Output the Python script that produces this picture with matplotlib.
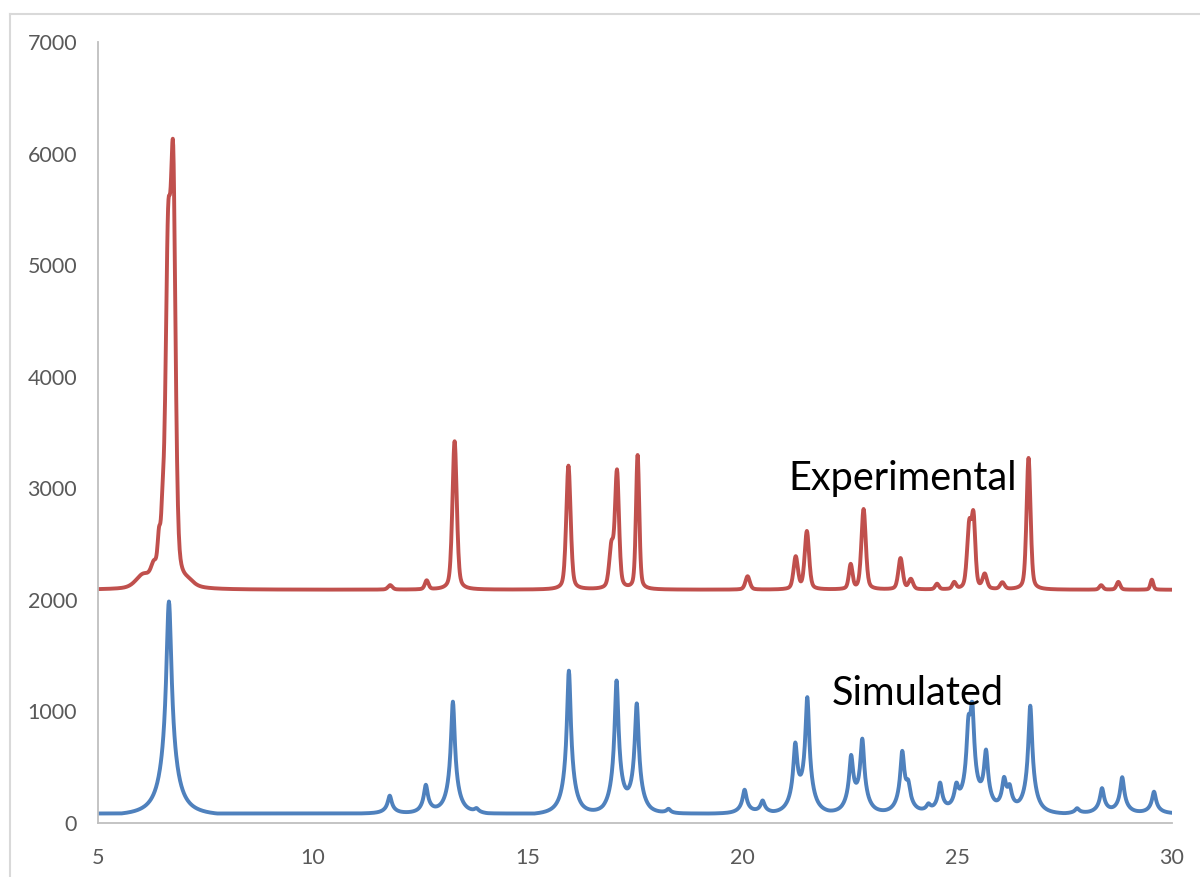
import numpy as np
import matplotlib.pyplot as plt

plt.rcParams['font.family'] = ['Lato', 'DejaVu Sans']

# peak lists: 2-theta position, height above background, half width
exp_pos = [6.05, 6.30, 6.42, 6.50, 6.63, 6.75, 7.10, 11.80, 12.65, 13.30, 15.95, 16.95, 17.08, 17.56,
           20.12, 21.24, 21.50, 22.52, 22.82, 23.68, 23.92, 24.53, 24.93, 25.28, 25.38, 25.64,
           26.05, 26.66, 28.35, 28.75, 29.53]
exp_height = [110, 130, 300, 380, 2880, 3450, 40, 40, 80, 1330, 1110, 360, 1040, 1200,
              120, 290, 520, 220, 720, 280, 90, 50, 60, 560, 590, 130,
              60, 1180, 40, 70, 90]
exp_width = [0.2, 0.08, 0.04, 0.04, 0.07, 0.065, 0.15, 0.06, 0.05, 0.06, 0.06, 0.06, 0.055, 0.045,
             0.06, 0.06, 0.06, 0.05, 0.06, 0.06, 0.06, 0.05, 0.05, 0.06, 0.05, 0.06,
             0.06, 0.055, 0.05, 0.05, 0.04]
exp_background = 2090

sim_pos = [6.65, 11.79, 12.63, 13.26, 13.81, 15.96, 17.07, 17.54, 18.28, 20.05, 20.47,
           21.23, 21.51, 22.53, 22.79, 23.72, 23.86, 24.33, 24.60, 24.98, 25.26, 25.35,
           25.67, 26.09, 26.22, 26.70, 27.79, 28.37, 28.84, 29.58]
sim_height = [1900, 160, 250, 1000, 35, 1280, 1170, 960, 40, 210, 110,
              560, 1000, 470, 630, 520, 180, 60, 260, 190, 560, 750,
              500, 260, 170, 960, 45, 220, 320, 195]
sim_width = [1.4, 1, 1, 1, 1, 1, 1, 1, 1, 1, 1,
             1, 1, 1, 1, 1, 1, 1, 1, 1, 1, 1,
             1, 1, 1, 1, 1, 1, 1, 1]
sim_background = 85

x = np.linspace(5, 30, 2501)


def exp_profile(x):
    y = np.full_like(x, exp_background, dtype=float)
    for p, h, w in zip(exp_pos, exp_height, exp_width):
        d = (x - p) / w
        y += h * (0.4 / (1 + d ** 2) + 0.6 * np.exp(-np.log(2) * d ** 2))
    return y


def sim_shape(d, s):
    return 0.7 / (1 + (d / (0.05 * s)) ** 2) + 0.3 / (1 + (d / (0.15 * s)) ** 2)


def sim_profile(x):
    y = np.full_like(x, sim_background, dtype=float)
    for p, h, s in zip(sim_pos, sim_height, sim_width):
        d = np.abs(x - p)
        cut = 0.8 * s
        shape = (sim_shape(d, s) - sim_shape(cut, s)) / (1 - sim_shape(cut, s))
        y += h * np.clip(shape, 0, None)
    return y


fig = plt.figure(figsize=(12, 8.77), dpi=100)
ax = fig.add_axes([0.0817, 0.0616, 0.895, 0.8906])

ax.plot(x, exp_profile(x), color='#C0504D', lw=2.8)
ax.plot(x, sim_profile(x), color='#4F81BD', lw=2.8)

ax.set_xlim(5, 30)
ax.set_ylim(0, 7000)
ax.set_xticks(range(5, 31, 5))
ax.set_yticks(range(0, 7001, 1000))
ax.tick_params(length=0, labelsize=15.5, labelcolor='#595959')
ax.tick_params(axis='y', pad=15)
ax.tick_params(axis='x', pad=18)
for s in ['top', 'right']:
    ax.spines[s].set_visible(False)
for s in ['left', 'bottom']:
    ax.spines[s].set_color('#BFBFBF')
    ax.spines[s].set_linewidth(1.3)

ax.text(23.72, 3090, 'Experimental', fontsize=28.5, ha='center', va='center')
ax.text(24.09, 1160, 'Simulated', fontsize=28.5, ha='center', va='center')

# chart area border (cropped on right and bottom)
fig.add_artist(plt.Line2D([10 / 1200, 1], [1 - 14 / 877, 1 - 14 / 877], color='#D9D9D9', lw=1.5))
fig.add_artist(plt.Line2D([10 / 1200, 10 / 1200], [0, 1 - 14 / 877], color='#D9D9D9', lw=1.5))

plt.savefig('out.png')
